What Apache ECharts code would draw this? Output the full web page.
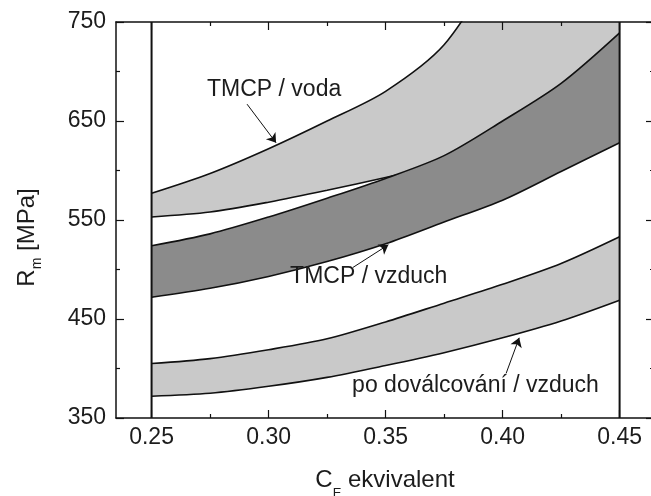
<!DOCTYPE html>
<html><head><meta charset="utf-8">
<script src="https://cdn.jsdelivr.net/npm/echarts@6/dist/echarts.min.js"></script>
<style>html,body{margin:0;padding:0;background:#fff}#c{width:651px;height:496px}</style>
</head><body><div id="c"></div>
<script>
// ---- data ----
const ceValues    = [0.25, 0.275, 0.30, 0.325, 0.35, 0.375, 0.40, 0.425, 0.45];
const vodaUpper   = [577, 597, 622, 650, 680, 727, 815, 900, 990];
const vodaLower   = [553, 558, 568, 580, 593, 606, 622, 642, 665];
const vzduchUpper = [524, 536, 553, 572, 592, 615, 650, 688, 739];
const vzduchLower = [472, 481, 493, 508, 526, 548, 570, 599, 628];
const poUpper     = [405, 410, 419, 430, 447, 466, 485, 506, 533];
const poLower     = [372, 375, 382, 391, 403, 416, 431, 448, 469];
const xMajorTicks = [0.25, 0.30, 0.35, 0.40, 0.45];
const xMinorTicks = [0.275, 0.325, 0.375, 0.425];
const boundaryCE  = [0.25, 0.45];
const bandNames   = ['TMCP / voda', 'TMCP / vzduch', 'po doválcování / vzduch'];
const labelAt     = [[0.2737, 682], [0.3092, 493], [0.3357, 383]];
const arrowFrom   = [[0.2908, 667], [0.3360, 502], [0.4015, 395]];
const arrowTo     = [[0.3032, 628], [0.3512, 525], [0.4071, 431]];

const XMIN = 0.2348, XMAX = 0.4647, YMIN = 350, YMAX = 750;
const FONT = 'Liberation Sans, Arial, sans-serif';
const TXT = '#1c1c1c';
const LIGHT = '#c9c9c9', DARK = '#8b8b8b';

const pts = ys => ceValues.map((x, i) => [x, ys[i]]);
const SMOOTH = 0.3;

function fill(ys, color, z) {
  return { type: 'line', data: pts(ys), smooth: SMOOTH, showSymbol: false, symbol: 'none',
    lineStyle: { opacity: 0, width: 0 }, areaStyle: { color: color, opacity: 1, origin: 'start' },
    z: z, silent: true };
}
function stroke(ys, z) {
  return { type: 'line', data: pts(ys), smooth: SMOOTH, showSymbol: false, symbol: 'none',
    lineStyle: { color: '#111', width: 1.6 }, z: z, silent: true };
}

const series = [
  fill(vodaUpper, LIGHT, 1), fill(vodaLower, '#fff', 2),
  stroke(vodaUpper, 3), stroke(vodaLower, 3),
  fill(vzduchUpper, DARK, 4), fill(vzduchLower, '#fff', 5),
  stroke(vzduchUpper, 6), stroke(vzduchLower, 6),
  fill(poUpper, LIGHT, 7), fill(poLower, '#fff', 8),
  stroke(poUpper, 9), stroke(poLower, 9),
  ...boundaryCE.map(x => ({ type: 'line', data: [[x, YMIN], [x, YMAX]], showSymbol: false, symbol: 'none',
    lineStyle: { color: '#111', width: 2 }, z: 10, silent: true })),
  { type: 'line', data: [], z: 11, silent: true,
    markLine: { z: 30, silent: true, animation: false, symbol: ['none', 'arrow'], symbolSize: 9,
      itemStyle: { color: '#111' },
      lineStyle: { color: '#111', width: 1, type: 'solid' }, label: { show: false },
      data: arrowFrom.map((f, i) => [{ coord: f }, { coord: arrowTo[i] }]) },
    markPoint: { z: 30, silent: true, animation: false, symbol: 'circle', symbolSize: 0,
      label: { show: true, position: 'right', distance: 0, formatter: p => p.name,
        fontSize: 23, fontFamily: FONT, color: TXT },
      data: labelAt.map((c, i) => ({ coord: c, name: bandNames[i] })) } }
];

const axisLineStyle = { show: true, lineStyle: { color: '#111', width: 1.5 } };
const tickStyle = { color: '#111', width: 1.2 };
const chart = echarts.init(document.getElementById('c'), null, { renderer: 'canvas' });
chart.setOption({
  animation: false,
  backgroundColor: '#fff',
  grid: { left: 116, top: 22, width: 538, height: 396, containLabel: false, outerBoundsMode: 'none' },
  xAxis: [
    { type: 'value', position: 'bottom', min: XMIN, max: XMAX, splitLine: { show: false }, z: 20,
      axisLine: axisLineStyle,
      axisTick: { show: true, inside: true, length: 8, lineStyle: tickStyle, customValues: xMajorTicks },
      axisLabel: { show: true, customValues: xMajorTicks, formatter: v => v.toFixed(2), fontSize: 23,
        fontFamily: FONT, color: TXT, margin: 8 },
      name: '{c|C}{e|E}{t| ekvivalent}', nameLocation: 'middle', nameGap: 42,
      nameTextStyle: { fontFamily: FONT, color: TXT, fontSize: 24,
        rich: { c: { fontSize: 24, fontFamily: FONT, color: TXT, lineHeight: 40 },
                e: { fontSize: 13, fontFamily: FONT, color: TXT, lineHeight: 13, verticalAlign: 'bottom' },
                t: { fontSize: 24, fontFamily: FONT, color: TXT, lineHeight: 40 } } } },
    { type: 'value', position: 'bottom', min: XMIN, max: XMAX, splitLine: { show: false }, z: 20,
      axisLine: { show: false }, axisLabel: { show: false },
      axisTick: { show: true, inside: true, length: 4, lineStyle: tickStyle, customValues: xMinorTicks } },
    { type: 'value', position: 'top', min: XMIN, max: XMAX, splitLine: { show: false }, z: 20,
      axisLine: axisLineStyle, axisLabel: { show: false },
      axisTick: { show: true, inside: true, length: 8, lineStyle: tickStyle, customValues: xMajorTicks } },
    { type: 'value', position: 'top', min: XMIN, max: XMAX, splitLine: { show: false }, z: 20,
      axisLine: { show: false }, axisLabel: { show: false },
      axisTick: { show: true, inside: true, length: 4, lineStyle: tickStyle, customValues: xMinorTicks } }
  ],
  yAxis: [
    { type: 'value', position: 'left', min: YMIN, max: YMAX, interval: 100, splitLine: { show: false }, z: 20,
      axisLine: axisLineStyle,
      axisTick: { show: true, inside: true, length: 8, lineStyle: tickStyle },
      minorTick: { show: true, splitNumber: 2, length: 4, lineStyle: tickStyle },
      axisLabel: { fontSize: 23, fontFamily: FONT, color: TXT, margin: 10 },
      name: '{r|R}{s|m}{r| [MPa]}', nameLocation: 'middle', nameGap: 72, nameRotate: 90,
      nameTextStyle: { fontFamily: FONT, color: TXT, fontSize: 24, padding: [0, 35, 0, 0],
        rich: { r: { fontSize: 24, fontFamily: FONT, color: TXT, lineHeight: 34 },
                s: { fontSize: 14, fontFamily: FONT, color: TXT, lineHeight: 14, verticalAlign: 'bottom' } } } },
    { type: 'value', position: 'right', min: YMIN, max: YMAX, interval: 100, splitLine: { show: false }, z: 20,
      axisLine: axisLineStyle, axisLabel: { show: false },
      axisTick: { show: true, inside: true, length: 8, lineStyle: tickStyle },
      minorTick: { show: true, splitNumber: 2, length: 4, lineStyle: tickStyle } }
  ],
  series: series
});
</script></body></html>
